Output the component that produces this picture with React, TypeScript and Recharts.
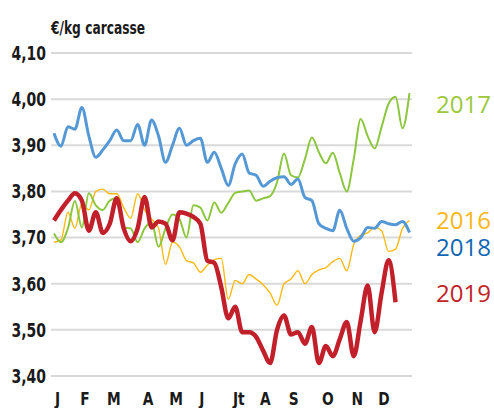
import { CartesianGrid, Line, LineChart, XAxis, YAxis } from "recharts";

// semaine de l'année (0 = 1re semaine de janvier)
const WEEKS = Array.from({ length: 52 }, (_, i) => i);

const PRICES_2016 = [
  3.69, 3.695, 3.755, 3.72, 3.774, 3.76, 3.8, 3.805, 3.795, 3.795,
  3.765, 3.742, 3.795, 3.76, 3.74, 3.72, 3.642, 3.69, 3.68, 3.65,
  3.645, 3.625, 3.64, 3.652, 3.655, 3.566, 3.607, 3.6, 3.62, 3.61,
  3.598, 3.58, 3.553, 3.6, 3.61, 3.628, 3.6, 3.62, 3.63, 3.635,
  3.648, 3.655, 3.628, 3.685, 3.705, 3.71, 3.722, 3.715, 3.67, 3.675,
  3.72, 3.737,
];

const PRICES_2017 = [
  3.709, 3.69, 3.72, 3.779, 3.722, 3.796, 3.77, 3.76, 3.78, 3.785,
  3.722, 3.72, 3.69, 3.72, 3.733, 3.68, 3.72, 3.75, 3.74, 3.7,
  3.77, 3.765, 3.737, 3.776, 3.754, 3.775, 3.797, 3.8, 3.802, 3.78,
  3.785, 3.79, 3.82, 3.882, 3.835, 3.83, 3.87, 3.917, 3.885, 3.861,
  3.884, 3.84, 3.8, 3.87, 3.957, 3.92, 3.893, 3.94, 3.99, 4.005,
  3.937, 4.013,
];

const PRICES_2018 = [
  3.926, 3.898, 3.94, 3.935, 3.982, 3.92, 3.874, 3.89, 3.91, 3.933,
  3.91, 3.91, 3.945, 3.9, 3.955, 3.92, 3.863, 3.9, 3.937, 3.9,
  3.91, 3.915, 3.863, 3.885, 3.85, 3.813, 3.86, 3.881, 3.84, 3.835,
  3.811, 3.822, 3.83, 3.832, 3.815, 3.827, 3.787, 3.78, 3.73, 3.72,
  3.715, 3.759, 3.72, 3.692, 3.7, 3.722, 3.72, 3.735, 3.73, 3.728,
  3.735, 3.711,
];

const PRICES_2019 = [
  3.737, 3.76, 3.78, 3.796, 3.78, 3.715, 3.755, 3.71, 3.73, 3.785,
  3.72, 3.692, 3.72, 3.788, 3.722, 3.735, 3.73, 3.694, 3.755, 3.752,
  3.745, 3.73, 3.65, 3.645, 3.592, 3.525, 3.55, 3.495, 3.495, 3.485,
  3.455, 3.428, 3.5, 3.531, 3.49, 3.495, 3.47, 3.506, 3.428, 3.465,
  3.443, 3.48, 3.517, 3.443, 3.52, 3.596, 3.495, 3.58, 3.651, 3.56,
];

const MONTH_TICKS = [0.5, 4.45, 8.6, 13.5, 17.5, 21.2, 26.5, 30.3, 34.4, 39.3, 43.5, 47.35];
const MONTH_LABELS = ["J", "F", "M", "A", "M", "J", "Jt", "A", "S", "O", "N", "D"];
const PRICE_TICKS = [3.4, 3.5, 3.6, 3.7, 3.8, 3.9, 4.0, 4.1];

const data = WEEKS.map((w, i) => ({
  w,
  y2016: PRICES_2016[i] ?? null,
  y2017: PRICES_2017[i] ?? null,
  y2018: PRICES_2018[i] ?? null,
  y2019: PRICES_2019[i] ?? null,
}));

const NARROW = "'DejaVu Sans Condensed', 'DejaVu Sans', sans-serif";

const LEGEND = [
  { label: "2017", color: "#9cc83c", top: 112 },
  { label: "2016", color: "#fbb617", top: 228 },
  { label: "2018", color: "#1166b2", top: 255 },
  { label: "2019", color: "#c1232b", top: 301 },
];

// les libellés d'origine sont en police étroite : on resserre horizontalement
function PriceTick({ x, y, payload }: any) {
  return (
    <text
      transform={`translate(${x},${y}) scale(0.82,1)`}
      textAnchor="end"
      dy="0.36em"
      fontSize={19}
      fontWeight={700}
      fontFamily={NARROW}
      fill="#1a1a1a"
    >
      {payload.value.toFixed(2).replace(".", ",")}
    </text>
  );
}

function MonthTick({ x, index }: any) {
  return (
    <text
      transform={`translate(${x},405) scale(0.85,1)`}
      textAnchor="middle"
      fontSize={18}
      fontWeight={700}
      fontFamily={NARROW}
      fill="#1a1a1a"
    >
      {MONTH_LABELS[index]}
    </text>
  );
}

export default function App() {
  return (
    <div style={{ position: "absolute", left: 0, top: 0, width: 494, height: 408, background: "#fff" }}>
      <LineChart width={494} height={408} data={data} margin={{ top: 53, right: 82, left: 0, bottom: 0 }}>
        <CartesianGrid horizontal vertical={false} stroke="#d9d9d9" strokeWidth={2} />
        <XAxis
          dataKey="w"
          type="number"
          domain={[-0.43, 51.36]}
          ticks={MONTH_TICKS}
          interval={0}
          axisLine={false}
          tickLine={false}
          height={32}
          tick={<MonthTick />}
        />
        <YAxis
          type="number"
          domain={[3.4, 4.1]}
          ticks={PRICE_TICKS}
          interval={0}
          axisLine={false}
          tickLine={false}
          tickSize={3}
          tickMargin={2}
          width={51}
          tick={<PriceTick />}
        />
        <Line dataKey="y2016" type="monotone" stroke="#fdb913" strokeWidth={1.4} dot={false} isAnimationActive={false} />
        <Line dataKey="y2017" type="monotone" stroke="#8cc63f" strokeWidth={2} dot={false} isAnimationActive={false} />
        <Line dataKey="y2018" type="monotone" stroke="#5598d6" strokeWidth={3} dot={false} isAnimationActive={false} />
        <Line dataKey="y2019" type="monotone" stroke="#c1202a" strokeWidth={4.5} dot={false} isAnimationActive={false} connectNulls={false} />
      </LineChart>
      <div
        style={{
          position: "absolute",
          left: 51,
          top: 18,
          fontFamily: NARROW,
          fontSize: 17,
          fontWeight: 700,
          color: "#1a1a1a",
          lineHeight: "20px",
          transform: "scaleX(0.8)",
          transformOrigin: "left top",
          whiteSpace: "nowrap",
        }}
      >
        €/kg carcasse
      </div>
      {LEGEND.map((l) => (
        <div
          key={l.label}
          style={{
            position: "absolute",
            left: 436,
            top: l.top - 18,
            fontFamily: "'Open Sans', sans-serif",
            fontSize: 24,
            lineHeight: "20px",
            color: l.color,
          }}
        >
          {l.label}
        </div>
      ))}
    </div>
  );
}
